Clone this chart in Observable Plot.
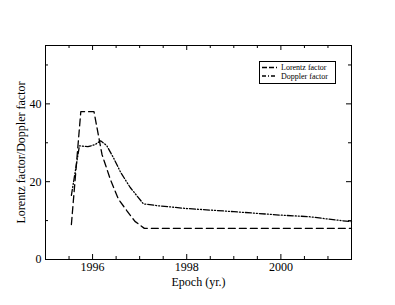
<!DOCTYPE html>
<html><head><meta charset="utf-8">
<script src="https://cdn.jsdelivr.net/npm/d3@7"></script>
<script src="https://cdn.jsdelivr.net/npm/@observablehq/plot@0.6"></script>
<style>
body{margin:0;background:#fff;}
#wrap{position:relative;width:395px;height:305px;}
#legend{position:absolute;left:259px;top:61px;}
</style></head>
<body><div id="wrap"></div>
<script>
const lorentzEpoch = [1995.55,1995.75,1996.03,1996.2,1996.38,1996.55,1996.73,1996.9,1997.1,2001.5];
const lorentzValue = [9,38,38,27,20.5,15.5,12.5,9.8,8,8];
const dopplerEpoch = [1995.55,1995.72,1995.9,1996.05,1996.17,1996.3,1996.45,1996.6,1996.8,1997.08,1997.4,1998,1999,2000,2000.6,2001,2001.5];
const dopplerValue = [16.5,29.2,29,29.5,30.5,29.3,26,22.3,18.5,14.3,13.8,13.1,12.3,11.4,11,10.4,9.7];
const xMajor = [1996,1998,2000];
const xMinor = [1995.5,1996.5,1997,1997.5,1998.5,1999,1999.5,2000.5,2001];
const yMajor = [0,20,40];
const yMinor = [10,30,50];
const seriesNames = ["Lorentz factor","Doppler factor"];

const lorentz = lorentzEpoch.map((x,i)=>({x,y:lorentzValue[i]}));
const doppler = dopplerEpoch.map((x,i)=>({x,y:dopplerValue[i]}));

const W=395,H=305,mL=45,mR=44,mT=45,mB=46;
const pw=W-mL-mR, ph=H-mT-mB;
const font='"Liberation Serif", "Times New Roman", serif';
const dashL="7,4", dashD="6,2,1,2,1,2";

const tickMarks = (vals, len) => [
  Plot.tickX(vals,{x:d=>d,insetTop:ph-len,stroke:"#000",strokeWidth:1}),
  Plot.tickX(vals,{x:d=>d,insetBottom:ph-len,stroke:"#000",strokeWidth:1})
];
const tickMarksY = (vals, len) => [
  Plot.tickY(vals,{y:d=>d,insetRight:pw-len,stroke:"#000",strokeWidth:1}),
  Plot.tickY(vals,{y:d=>d,insetLeft:pw-len,stroke:"#000",strokeWidth:1})
];

const chart = Plot.plot({
  width:W,height:H,marginLeft:mL,marginRight:mR,marginTop:mT,marginBottom:mB,
  style:{fontFamily:font,fontSize:"12px",color:"#000",background:"#fff"},
  x:{domain:[1995,2001.5]},
  y:{domain:[0,55]},
  marks:[
    Plot.frame({stroke:"#000",strokeWidth:1}),
    ...tickMarks(xMajor,5),...tickMarks(xMinor,3),
    ...tickMarksY(yMajor,5),...tickMarksY(yMinor,3),
    Plot.axisX({ticks:xMajor,tickSize:0,tickPadding:3,tickFormat:d=>String(d),fontSize:12,label:null,fill:"#000"}),
    Plot.axisY({ticks:yMajor,tickSize:0,tickPadding:4,fontSize:12,label:null,fill:"#000"}),
    Plot.text(["Epoch (yr.)"],{frameAnchor:"bottom",dy:26,fontSize:12,text:d=>d,fill:"#000"}),
    Plot.text(["Lorentz factor/Doppler factor"],{frameAnchor:"left",textAnchor:"middle",dx:-24,rotate:-90,fontSize:12,text:d=>d,fill:"#000"}),
    Plot.line(lorentz,{x:"x",y:"y",stroke:"#000",strokeWidth:1.3,strokeDasharray:dashL}),
    Plot.line(doppler,{x:"x",y:"y",stroke:"#000",strokeWidth:1.3,strokeDasharray:dashD})
  ]
});
const wrap=document.getElementById("wrap");
wrap.appendChild(chart);

// legend
const lg=d3.select(wrap).append("svg").attr("id","legend").attr("width",77).attr("height",23)
  .style("font-family",font).style("font-size","8px");
lg.append("rect").attr("x",0.5).attr("y",0.5).attr("width",76).attr("height",22).attr("fill","#fff").attr("stroke","#000");
[dashL,dashD].forEach((da,i)=>{
  const y=6.5+i*8.5;
  lg.append("line").attr("x1",3).attr("x2",18).attr("y1",y).attr("y2",y).attr("stroke","#000").attr("stroke-width",1.3).attr("stroke-dasharray",i?"4,2,1,2":"5,2");
  lg.append("text").attr("x",22).attr("y",y+2.8).attr("fill","#000").text(seriesNames[i]);
});
</script></body></html>
